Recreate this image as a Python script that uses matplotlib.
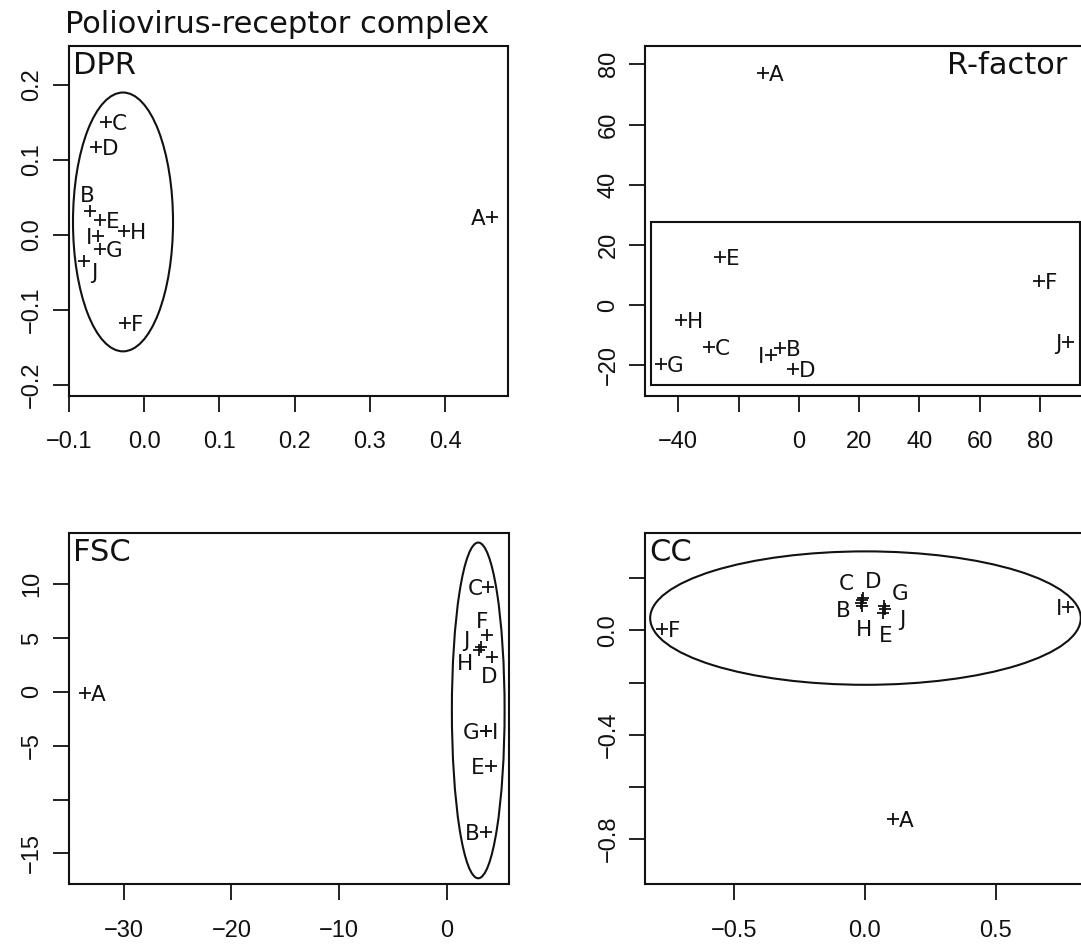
import matplotlib
matplotlib.use('Agg')
import matplotlib.pyplot as plt
from matplotlib.patches import Ellipse, Rectangle

# point names (same order in every panel)
names = ['A', 'B', 'C', 'D', 'E', 'F', 'G', 'H', 'I', 'J']

# DPR
dpr_x = [0.462, -0.0718, -0.0507, -0.0645, -0.0589, -0.026, -0.0589, -0.0269, -0.0613, -0.0795]
dpr_y = [0.023, 0.032, 0.150, 0.117, 0.020, -0.118, -0.0187, 0.0044, -0.0013, -0.0356]
dpr_ellipse = [-0.0282, 0.017, 0.133, 0.345]   # cx, cy, width, height
dpr_xticks = [-0.1, 0.0, 0.1, 0.2, 0.3, 0.4]
dpr_xlabels = ['−0.1', '0.0', '0.1', '0.2', '0.3', '0.4']
dpr_yticks = [-0.2, -0.1, 0.0, 0.1, 0.2]
dpr_ylabels = ['−0.2', '−0.1', '0.0', '0.1', '0.2']

# R-factor
rf_x = [-12.0, -6.3, -29.8, -2.0, -26.1, 79.6, -45.8, -39.0, -9.4, 89.2]
rf_y = [77.1, -14.4, -13.8, -21.3, 16.0, 8.0, -19.7, -4.8, -16.6, -12.4]
rf_box = [-49.1, -26.6, 93.4, 27.7]   # x0, y0, x1, y1
rf_xticks = [-40, -20, 0, 20, 40, 60, 80]
rf_xlabels = ['−40', '', '0', '20', '40', '60', '80']
rf_yticks = [-20, 0, 20, 40, 60, 80]
rf_ylabels = ['−20', '0', '20', '40', '60', '80']

# FSC
fsc_x = [-33.6, 3.62, 3.88, 4.2, 4.1, 3.78, 3.62, 3.04, 3.66, 3.24]
fsc_y = [-0.06, -12.98, 9.79, 3.28, -6.85, 5.30, -3.62, 3.90, -3.66, 4.21]
fsc_ellipse = [2.94, -1.72, 4.9, 31.2]
fsc_xticks = [-30, -20, -10, 0]
fsc_xlabels = ['−30', '−20', '−10', '0']
fsc_yticks = [-15, -10, -5, 0, 5, 10]
fsc_ylabels = ['−15', '', '−5', '0', '5', '10']

# CC
cc_x = [0.106, -0.016, -0.011, -0.007, 0.070, -0.777, 0.072, -0.011, 0.777, 0.077]
cc_y = [-0.723, 0.105, 0.118, 0.124, 0.069, 0.0065, 0.095, 0.095, 0.090, 0.082]
cc_ellipse = [0.002, 0.0476, 1.648, 0.512]
cc_xticks = [-0.5, 0.0, 0.5]
cc_xlabels = ['−0.5', '0.0', '0.5']
cc_yticks = [-0.8, -0.6, -0.4, -0.2, 0.0, 0.2]
cc_ylabels = ['−0.8', '', '−0.4', '', '0.0', '']

# where each name sits next to its '+': side code, or label-centre offset in pixels
dpr_pos = ['l', (-3, 17), 'r', 'r', 'r', 'r', 'r', 'r', 'l', (10, -10)]
rf_pos = ['r', 'r', 'r', 'r', 'r', 'r', 'r', 'r', 'l', 'l']
fsc_pos = ['r', 'l', 'l', (-3, -18), 'l', (-5, 15), 'l', (-14, -12), 'r', (-15, 8)]
cc_pos = ['r', (-18, -6), (-16, 18), (10, 18), (2, -21), 'r', (16, 14), (2, -22), 'l', (17, -9)]

sides = {
    'r': (6, 0, 'left', 'center'),
    'l': (-6, 0, 'right', 'center'),
}

TICK_FONT = 'Liberation Sans'
TEXT_FONT = 'DejaVu Sans'
INK = '#111111'

fig = plt.figure(figsize=(10.81, 9.47), dpi=100)
W, H = 1081.0, 947.0


def make_axes(left, top, width, height):
    return fig.add_axes([left / W, 1 - (top + height) / H, width / W, height / H])


def setup(ax, xt, xl, yt, yl, xlim, ylim, title, title_right=False):
    ax.set_xlim(xlim)
    ax.set_ylim(ylim)
    ax.set_xticks(xt)
    ax.set_xticklabels(xl, fontfamily=TICK_FONT, fontsize=17)
    ax.set_yticks(yt)
    ax.set_yticklabels(yl, fontfamily=TICK_FONT, fontsize=17, rotation=90, va='center')
    ax.tick_params(axis='both', direction='out', length=11.5, width=1.3, colors=INK)
    ax.tick_params(axis='x', pad=14)
    ax.tick_params(axis='y', pad=7)
    for sp in ax.spines.values():
        sp.set_linewidth(1.5)
        sp.set_color(INK)
    if title_right:
        ax.annotate(title, xy=(1, 1), xycoords='axes fraction', xytext=(-17, -28),
                    textcoords='offset pixels', ha='right', va='baseline',
                    fontsize=22, fontfamily=TEXT_FONT, color=INK)
    else:
        ax.annotate(title, xy=(0, 1), xycoords='axes fraction', xytext=(4, -28),
                    textcoords='offset pixels', ha='left', va='baseline',
                    fontsize=22, fontfamily=TEXT_FONT, color=INK)


def points(ax, xs, ys, pos):
    ax.plot(xs, ys, '+', color=INK, ms=8.5, mew=1.3, zorder=3)
    for n, x, y, p in zip(names, xs, ys, pos):
        if isinstance(p, tuple):
            dx, dy, ha, va = p[0], p[1] - 2, 'center', 'center'
        else:
            dx, dy, ha, va = sides[p]
            dy -= 2
        ax.annotate(n, xy=(x, y), xytext=(dx, dy), textcoords='offset pixels',
                    ha=ha, va=va, fontsize=15.5, fontfamily=TEXT_FONT, color=INK)


def ellipse(ax, e):
    ax.add_patch(Ellipse((e[0], e[1]), e[2], e[3], fill=False, lw=1.5, ec=INK))


# panel 1 - DPR
ax1 = make_axes(69, 46, 438.5, 350)
setup(ax1, dpr_xticks, dpr_xlabels, dpr_yticks, dpr_ylabels,
      (-0.1, 0.483), (-0.215, 0.2515), 'DPR')
points(ax1, dpr_x, dpr_y, dpr_pos)
ellipse(ax1, dpr_ellipse)

# panel 2 - R-factor
ax2 = make_axes(645.2, 46, 439.5, 350)
setup(ax2, rf_xticks, rf_xlabels, rf_yticks, rf_ylabels,
      (-51.0, 94.9), (-30.2, 86.1), 'R-factor', title_right=True)
points(ax2, rf_x, rf_y, rf_pos)
ax2.add_patch(Rectangle((rf_box[0], rf_box[1]), rf_box[2] - rf_box[0], rf_box[3] - rf_box[1],
                        fill=False, lw=1.5, ec=INK))

# panel 3 - FSC
ax3 = make_axes(69, 533.3, 440, 351)
setup(ax3, fsc_xticks, fsc_xlabels, fsc_yticks, fsc_ylabels,
      (-35.1, 5.8), (-17.88, 14.74), 'FSC')
points(ax3, fsc_x, fsc_y, fsc_pos)
ellipse(ax3, fsc_ellipse)

# panel 4 - CC
ax4 = make_axes(645.2, 533.3, 439.5, 351)
setup(ax4, cc_xticks, cc_xlabels, cc_yticks, cc_ylabels,
      (-0.841, 0.841), (-0.974, 0.373), 'CC')
points(ax4, cc_x, cc_y, cc_pos)
ellipse(ax4, cc_ellipse)

fig.text(65 / W, 1 - 33 / H, 'Poliovirus-receptor complex', ha='left', va='baseline',
         fontsize=22, fontfamily=TEXT_FONT, color=INK)

fig.savefig('out.png', dpi=100, facecolor='white')
